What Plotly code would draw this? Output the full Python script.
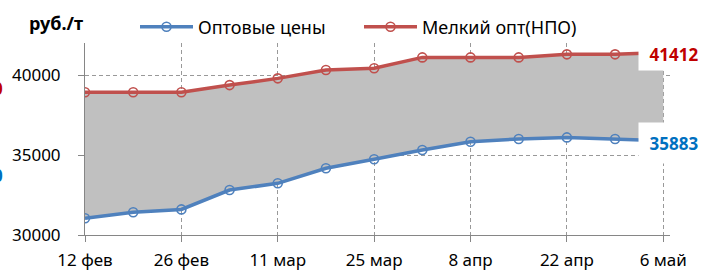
import plotly.graph_objects as go

dates = ["12 фев", "19 фев", "26 фев", "4 мар", "11 мар", "18 мар", "25 мар",
         "1 апр", "8 апр", "15 апр", "22 апр", "29 апр", "6 май"]
opt_prices = [31050, 31420, 31600, 32810, 33230, 34170, 34730,
              35310, 35830, 36000, 36100, 36000, 35883]
npo_prices = [38920, 38920, 38920, 39370, 39790, 40310, 40420,
              41100, 41100, 41100, 41290, 41290, 41412]
tick_labels = ["12 фев", "26 фев", "11 мар", "25 мар", "8 апр", "22 апр", "6 май"]
name_opt = "Оптовые цены"
name_npo = "Мелкий опт(НПО)"
unit = "руб./т"

FONT = "Noto Sans"
BLUE = "#4F81BD"
RED = "#C0504D"
AX = "#868686"

fig = go.Figure()
# gray band between series
fig.add_trace(go.Scatter(x=dates, y=opt_prices, mode="lines", line=dict(width=0),
                         showlegend=False, hoverinfo="skip"))
fig.add_trace(go.Scatter(x=dates, y=npo_prices, mode="lines", line=dict(width=0),
                         fill="tonexty", fillcolor="#C0C0C0", showlegend=False, hoverinfo="skip"))
# lines
fig.add_trace(go.Scatter(x=dates, y=opt_prices, mode="lines+markers", name=name_opt,
                         line=dict(color=BLUE, width=3.5),
                         marker=dict(symbol="circle-open", size=9, color=BLUE, line=dict(width=1.6))))
fig.add_trace(go.Scatter(x=dates, y=npo_prices, mode="lines+markers", name=name_npo,
                         line=dict(color=RED, width=3.5),
                         marker=dict(symbol="circle-open", size=9, color=RED, line=dict(width=1.6))))

L, R, T, B = 85, 32, 43, 38
W, H = 702, 273
pw, ph = W - L - R, H - T - B

def px(xp):
    return (xp - L) / pw

def py(yp):
    return (H - B - yp) / ph

fig.update_layout(
    width=W, height=H, margin=dict(l=L, r=R, t=T, b=B, autoexpand=False),
    paper_bgcolor="white", plot_bgcolor="white",
    font=dict(family=FONT, size=17, color="black"),
    showlegend=True,
    legend=dict(orientation="h", x=px(135), y=py(27), xanchor="left", yanchor="middle",
                bgcolor="rgba(0,0,0,0)", font=dict(size=18), itemwidth=53,
                entrywidth=156, entrywidthmode="pixels", traceorder="normal"),
    xaxis=dict(type="category", categoryorder="array", categoryarray=dates,
               range=[0, 12.14], tickmode="array", tickvals=tick_labels, ticktext=tick_labels,
               showline=True, linecolor=AX, linewidth=1, ticks="outside", ticklen=6, tickcolor=AX,
               showgrid=True, gridcolor="#999999", griddash="4px,3px", gridwidth=1,
               tickfont=dict(size=17), zeroline=False, ticklabelstandoff=4),
    yaxis=dict(range=[30000, 42000], tick0=30000, dtick=5000, tickformat="d",
               showline=True, linecolor=AX,
               linewidth=1, ticks="outside", ticklen=6, tickcolor=AX,
               showgrid=True, gridcolor="#999999", griddash="4px,3px", gridwidth=1,
               tickfont=dict(size=17), zeroline=False, ticklabelstandoff=14),
)

fig.add_annotation(text="<b>" + unit + "</b>", xref="paper", yref="paper",
                   x=px(27), y=py(23), xanchor="left", yanchor="middle", showarrow=False,
                   font=dict(size=18, color="black"))
# end labels
fig.add_annotation(text="<b>" + str(npo_prices[-1]) + "</b>", xref="paper", yref="paper",
                   x=px(638), y=py(54), xanchor="left", yanchor="middle", showarrow=False,
                   width=70, height=32, bgcolor="white", borderpad=0,
                   font=dict(size=17, color="#C00000"))
fig.add_annotation(text="<b>" + str(opt_prices[-1]) + "</b>", xref="paper", yref="paper",
                   x=px(638), y=py(143), xanchor="left", yanchor="middle", showarrow=False,
                   width=70, height=40, bgcolor="white", borderpad=0,
                   font=dict(size=17, color="#0070C0"))
# cut-off labels at left edge
fig.add_annotation(text="<b>" + str(npo_prices[0]) + "</b>", xref="paper", yref="paper",
                   x=px(5), y=py(88), xanchor="right", yanchor="middle", showarrow=False,
                   font=dict(size=17, color="#C00000"))
fig.add_annotation(text="<b>" + str(opt_prices[0]) + "</b>", xref="paper", yref="paper",
                   x=px(5), y=py(175), xanchor="right", yanchor="middle", showarrow=False,
                   font=dict(size=17, color="#0070C0"))

fig.write_html("out.html", config={"displayModeBar": False},
               post_script="document.body.style.margin='0';document.body.style.overflow='hidden';")
